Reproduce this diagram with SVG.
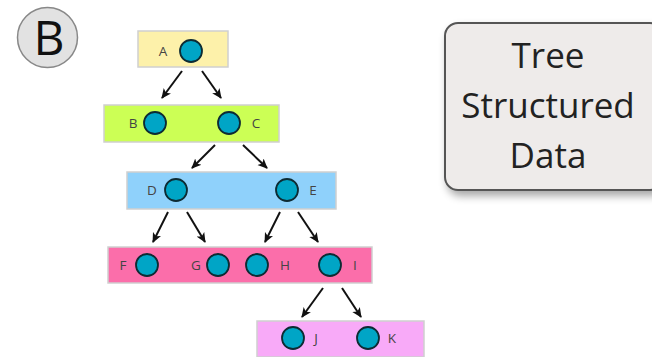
<svg xmlns="http://www.w3.org/2000/svg" width="652" height="357" viewBox="0 0 652 357">
<defs>
<marker id="ah" viewBox="0 0 10 10" refX="9" refY="5" markerWidth="5" markerHeight="5" orient="auto" markerUnits="strokeWidth">
<path d="M0,0.5 L10,5 L0,9.5 L2.5,5 z" fill="#111"/>
</marker>
<filter id="sh" x="-20%" y="-20%" width="150%" height="150%">
<feGaussianBlur in="SourceAlpha" stdDeviation="4"/>
<feOffset dx="3" dy="5"/>
<feComponentTransfer><feFuncA type="linear" slope="0.35"/></feComponentTransfer>
<feMerge><feMergeNode/><feMergeNode in="SourceGraphic"/></feMerge>
</filter>
</defs>
<style>
.row{stroke:#cfcfcf;stroke-width:1.5}
.n{fill:#00a5c6;stroke:#0d2b33;stroke-width:1.8}
.lb{font-family:"Open Sans","DejaVu Sans",sans-serif;font-size:13.5px;fill:#444}
.e{stroke:#111;stroke-width:2;fill:none;marker-end:url(#ah)}
.big{font-family:"Open Sans","Liberation Sans",sans-serif;font-size:35px;fill:#222;text-anchor:middle}
</style>
<rect width="652" height="357" fill="#fff"/>
<g id="badge">
<circle cx="47.5" cy="37.5" r="30" fill="#e2e2e2" stroke="#888" stroke-width="1.5"/>
<text x="49" y="55" font-family="Open Sans, Liberation Sans, sans-serif" font-size="48" fill="#111" text-anchor="middle">B</text>
</g>
<g id="rowA"><rect class="row" x="138" y="31" width="90" height="36" fill="#fdf1aa"/></g>
<g id="rowB"><rect class="row" x="104" y="105" width="175" height="37" fill="#ccff55"/></g>
<g id="rowD"><rect class="row" x="127" y="172" width="209" height="37" fill="#8fd1fb"/></g>
<g id="rowF"><rect class="row" x="108" y="247" width="264" height="36" fill="#fb6eaa"/></g>
<g id="rowJ"><rect class="row" x="257" y="321" width="167" height="36" fill="#f8aaf8"/></g>
<g id="connectors">
<line class="e" x1="182" y1="71" x2="162" y2="98"/>
<line class="e" x1="202" y1="71" x2="221" y2="98"/>
<line class="e" x1="215" y1="145" x2="192" y2="168"/>
<line class="e" x1="243" y1="145" x2="267" y2="168"/>
<line class="e" x1="168" y1="212" x2="153" y2="242"/>
<line class="e" x1="187" y1="212" x2="205" y2="242"/>
<line class="e" x1="280" y1="212" x2="265" y2="242"/>
<line class="e" x1="298" y1="212" x2="318" y2="242"/>
<line class="e" x1="323" y1="288" x2="302" y2="317"/>
<line class="e" x1="342" y1="288" x2="361" y2="317"/>
</g>
<g id="A"><circle class="n" cx="191" cy="51" r="11"/><text class="lb" x="163" y="56" text-anchor="middle">A</text></g>
<g id="B"><circle class="n" cx="155" cy="123" r="11"/><text class="lb" x="133" y="128" text-anchor="middle">B</text></g>
<g id="C"><circle class="n" cx="229" cy="123" r="11"/><text class="lb" x="256" y="128" text-anchor="middle">C</text></g>
<g id="D"><circle class="n" cx="176" cy="190" r="11"/><text class="lb" x="152" y="195" text-anchor="middle">D</text></g>
<g id="E"><circle class="n" cx="287" cy="190" r="11"/><text class="lb" x="313" y="195" text-anchor="middle">E</text></g>
<g id="F"><circle class="n" cx="147" cy="265" r="11"/><text class="lb" x="123" y="270" text-anchor="middle">F</text></g>
<g id="G"><circle class="n" cx="218" cy="265" r="11"/><text class="lb" x="196" y="270" text-anchor="middle">G</text></g>
<g id="H"><circle class="n" cx="257" cy="265" r="11"/><text class="lb" x="285" y="270" text-anchor="middle">H</text></g>
<g id="I"><circle class="n" cx="330" cy="265" r="11"/><text class="lb" x="355" y="270" text-anchor="middle">I</text></g>
<g id="J"><circle class="n" cx="293" cy="338" r="11"/><text class="lb" x="316" y="343" text-anchor="middle">J</text></g>
<g id="K"><circle class="n" cx="368" cy="338" r="11"/><text class="lb" x="392" y="343" text-anchor="middle">K</text></g>
<g id="title">
<rect x="445" y="23" width="218" height="167" rx="13" fill="#eeebea" stroke="#555" stroke-width="2" filter="url(#sh)"/>
<text class="big" x="548" y="68">Tree</text>
<text class="big" x="548" y="118">Structured</text>
<text class="big" x="548" y="168">Data</text>
</g>
</svg>
